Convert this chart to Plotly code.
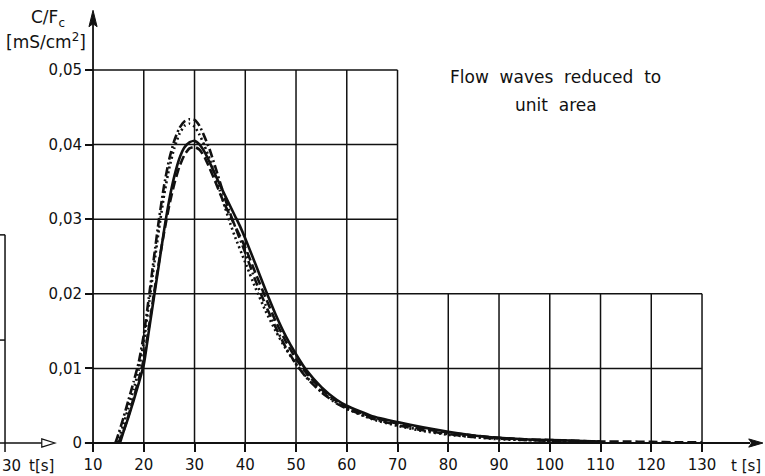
import plotly.graph_objects as go

# ---- data ----
x_solid = [15.3, 16, 17, 18, 19, 20, 21, 22, 23, 24, 25, 26, 27, 28, 29, 30, 31, 32, 33, 34, 35, 36, 38, 39, 40, 42, 44, 46, 48, 50, 52, 55, 58, 60, 65, 70, 75, 80, 85, 90, 95, 100, 105, 110]
y_solid = [0, 0.0015, 0.0035, 0.0057, 0.0080, 0.0105, 0.0150, 0.0195, 0.0240, 0.0285, 0.0325, 0.0357, 0.0381, 0.0396, 0.0403, 0.0405, 0.0400, 0.0390, 0.0376, 0.0361, 0.0346, 0.0332, 0.0304, 0.0290, 0.0274, 0.0240, 0.0205, 0.0172, 0.0143, 0.0119, 0.0098, 0.0075, 0.0058, 0.0050, 0.0036, 0.0028, 0.0021, 0.0015, 0.0010, 0.0007, 0.0005, 0.0004, 0.0003, 0.0002]

x_dash = [15.0, 16, 17, 18, 19, 20, 21, 22, 23, 24, 25, 26, 27, 28, 29, 30, 31, 32, 33, 34, 35, 36, 38, 40, 42, 44, 46, 48, 50, 52, 55, 58, 60, 65, 70, 75, 80, 85, 90, 95, 100, 105, 110, 115, 120, 125, 130]
y_dash = [0, 0.0016, 0.0037, 0.0060, 0.0085, 0.0112, 0.0155, 0.0200, 0.0243, 0.0282, 0.0318, 0.0347, 0.0370, 0.0386, 0.0395, 0.0397, 0.0393, 0.0383, 0.0368, 0.0352, 0.0335, 0.0319, 0.0291, 0.0262, 0.0228, 0.0195, 0.0163, 0.0136, 0.0113, 0.0094, 0.0072, 0.0056, 0.0048, 0.0035, 0.0026, 0.0019, 0.0014, 0.0010, 0.0007, 0.0005, 0.0004, 0.0003, 0.0002, 0.0002, 0.00015, 0.0001, 0.0001]

x_dashdot = [14.4, 15, 16, 17, 18, 19, 20, 21, 22, 23, 24, 25, 26, 27, 28, 29, 30, 31, 32, 33, 34, 35, 36, 37, 38, 40, 42, 44, 46, 48, 50, 52, 55, 58, 60, 65, 70, 75, 80, 85, 90, 95, 100, 110]
y_dashdot = [0, 0.0012, 0.0034, 0.0058, 0.0082, 0.0108, 0.0145, 0.0195, 0.0248, 0.0300, 0.0345, 0.0380, 0.0405, 0.0422, 0.0431, 0.0434, 0.0433, 0.0425, 0.0410, 0.0393, 0.0372, 0.0350, 0.0328, 0.0308, 0.0290, 0.0255, 0.0218, 0.0185, 0.0155, 0.0128, 0.0106, 0.0088, 0.0068, 0.0053, 0.0046, 0.0033, 0.0024, 0.0017, 0.0012, 0.0008, 0.0006, 0.0004, 0.0003, 0.0002]

x_dot = [14.8, 15, 16, 17, 18, 19, 20, 21, 22, 23, 24, 25, 26, 27, 28, 29, 30, 31, 32, 33, 34, 35, 36, 37, 38, 40, 42, 44, 46, 48, 50, 52, 55, 58, 60, 65, 70, 75, 80, 85, 90, 95, 100, 110]
y_dot = [0, 0.0004, 0.0025, 0.0048, 0.0072, 0.0098, 0.0135, 0.0185, 0.0237, 0.0287, 0.0332, 0.0368, 0.0395, 0.0414, 0.0425, 0.0428, 0.0424, 0.0413, 0.0398, 0.0380, 0.0360, 0.0338, 0.0316, 0.0295, 0.0276, 0.0242, 0.0208, 0.0177, 0.0150, 0.0126, 0.0106, 0.0089, 0.0069, 0.0054, 0.0046, 0.0032, 0.0023, 0.0016, 0.0011, 0.0008, 0.0005, 0.0004, 0.0003, 0.0002]

x_ticks = [10, 20, 30, 40, 50, 60, 70, 80, 90, 100, 110, 120, 130]
x_ticktext = ["10", "20", "30", "40", "50", "60", "70", "80", "90", "100", "110", "120", "130"]
y_ticks = [0, 0.01, 0.02, 0.03, 0.04, 0.05]
y_ticktext = ["0", "0,01", "0,02", "0,03", "0,04", "0,05"]

# ---- figure ----
X0, X1 = -8.33, 142.41
Y0, Y1 = -0.00442, 0.05938
INK = "#111111"
FONT = "DejaVu Sans"

fig = go.Figure()
styles = [
    (x_solid, y_solid, "solid"),
    (x_dash, y_dash, "9px,4px"),
    (x_dashdot, y_dashdot, "9px,3px,2px,3px"),
    (x_dot, y_dot, "2px,3px"),
]
for xs, ys, dash in styles:
    fig.add_trace(go.Scatter(x=xs, y=ys, mode="lines",
                             line=dict(color=INK, width=2.6, dash=dash, shape="spline", smoothing=0.5),
                             showlegend=False, hoverinfo="skip"))

shapes = []
def line(x0, y0, x1, y1, w=1.5):
    shapes.append(dict(type="line", xref="x", yref="y", x0=x0, y0=y0, x1=x1, y1=y1,
                       line=dict(color=INK, width=w), layer="below"))

# grid (stepped: up to 0.05 for t<=70, up to 0.02 beyond)
for xv in x_ticks[1:]:
    top = 0.05 if xv <= 70 else 0.02
    line(xv, 0, xv, top)
for yv in y_ticks[1:]:
    right = 130 if yv <= 0.02 else 70
    line(10, yv, right, yv)

# axes
line(8.4, 0, 139.5, 0, 1.8)
line(10, -0.0008, 10, 0.0565, 1.8)
shapes.append(dict(type="path", xref="x", yref="y", fillcolor=INK, line=dict(color=INK, width=1),
                   path="M 142.0 0 L 139.2 0.00055 L 139.8 0 L 139.2 -0.00055 Z"))
shapes.append(dict(type="path", xref="x", yref="y", fillcolor=INK, line=dict(color=INK, width=1),
                   path="M 10 0.0580 L 9.2 0.0558 L 10 0.0562 L 10.8 0.0558 Z"))

# fragment of neighbouring chart on the left
line(X0, 0, 2.0, 0, 1.5)
shapes.append(dict(type="path", xref="x", yref="y", fillcolor="white", line=dict(color=INK, width=1.2),
                   path="M 2.5 0 L -0.1 0.00055 L -0.1 -0.00055 Z"))
line(-7.34, -0.0012, -7.34, 0.0279, 1.5)
line(X0, 0.0279, -7.34, 0.0279, 1.5)
line(X0, 0.0138, -7.34, 0.0138, 1.5)

fig.update_layout(
    width=765, height=476,
    margin=dict(l=0, r=0, t=0, b=0),
    paper_bgcolor="white", plot_bgcolor="white",
    font=dict(family=FONT, size=15, color=INK),
    shapes=shapes,
    xaxis=dict(range=[X0, X1], showgrid=False, zeroline=False, showline=False,
               anchor="free", position=33 / 476,
               tickvals=x_ticks, ticktext=x_ticktext, ticks="outside", ticklen=8,
               tickwidth=1.5, tickcolor=INK, tickfont=dict(size=15, family=FONT, color=INK)),
    yaxis=dict(range=[Y0, Y1], showgrid=False, zeroline=False, showline=False,
               anchor="free", position=93 / 765,
               tickvals=y_ticks, ticktext=y_ticktext, ticks="outside", ticklen=8,
               tickwidth=1.5, tickcolor=INK, tickfont=dict(size=15, family=FONT, color=INK)),
    annotations=[
        dict(x=1.1, y=0, xref="x", yref="y", text="C/F<sub>c</sub>", showarrow=False,
             font=dict(size=17, family=FONT, color=INK), xanchor="center", yanchor="middle", yshift=443 - 18),
        dict(x=0.7, y=0, xref="x", yref="y", text="[mS/cm<sup>2</sup>]", showarrow=False,
             font=dict(size=17, family=FONT, color=INK), xanchor="center", yanchor="middle", yshift=443 - 41),
        dict(x=135.3, y=0, xref="x", yref="y", text="t [s]", showarrow=False,
             font=dict(size=15, family=FONT, color=INK), xanchor="left", yanchor="middle", yshift=-23),
        dict(x=-3.0, y=0, xref="x", yref="y", text="t[s]", showarrow=False,
             font=dict(size=15, family=FONT, color=INK), xanchor="left", yanchor="middle", yshift=-23),
        dict(x=X0, y=0, xref="x", yref="y", text="30", showarrow=False,
             font=dict(size=15, family=FONT, color=INK), xanchor="left", yanchor="middle", yshift=-23),
        dict(x=101.2, y=0.04906, xref="x", yref="y", text="Flow  waves  reduced  to", showarrow=False,
             font=dict(size=17, family=FONT, color=INK), xanchor="center", yanchor="middle"),
        dict(x=101.2, y=0.04531, xref="x", yref="y", text="unit  area", showarrow=False,
             font=dict(size=17, family=FONT, color=INK), xanchor="center", yanchor="middle"),
    ],
)
fig.write_html("out.html")
